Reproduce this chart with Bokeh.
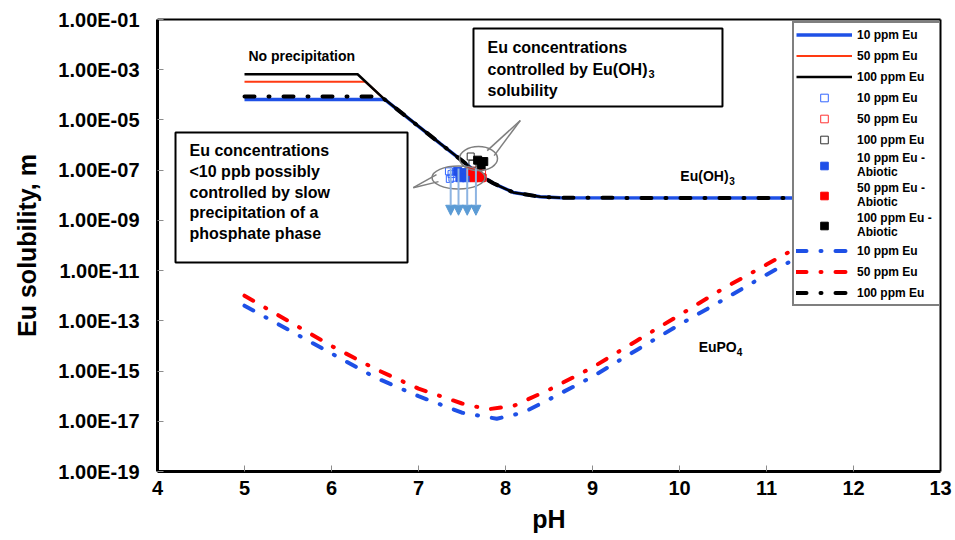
from bokeh.plotting import figure
from bokeh.models import (Range1d, FixedTicker, CustomJSTickFormatter, LinearAxis, LogAxis,
                          Legend, LegendItem, Label, BoxAnnotation, Arrow, NormalHead,
                          ColumnDataSource)
from bokeh.embed import file_html
from bokeh.resources import INLINE

FONT = "Liberation Sans"

# ---------------- data ----------------
x_ticks = [4, 5, 6, 7, 8, 9, 10, 11, 12, 13]
y_ticks = [1e-19, 1e-17, 1e-15, 1e-13, 1e-11, 1e-09, 1e-07, 1e-05, 1e-03, 1e-01]

# Eu(OH)3 controlled solubility (solid lines)
oh10_ph = [5.0, 6.61, 7.0, 7.25, 7.5, 7.71, 7.86, 8.09, 8.4, 8.63, 12.0]
oh10_m = [6.58e-5, 6.58e-5, 5.6e-6, 1.15e-6, 2.4e-7, 6.2e-8, 3.0e-8, 1.3e-8, 8.7e-9, 7.9e-9, 7.8e-9]
oh50_ph = [5.0, 6.39, 6.6, 7.0, 7.25, 7.5, 7.71, 7.86, 8.09, 8.4, 8.63]
oh50_m = [3.29e-4, 3.29e-4, 7.1e-5, 5.6e-6, 1.15e-6, 2.4e-7, 6.2e-8, 3.0e-8, 1.3e-8, 8.7e-9, 7.9e-9]
oh100_ph = [5.0, 6.3, 6.6, 7.0, 7.25, 7.5, 7.71, 7.86, 8.09, 8.4, 8.63]
oh100_m = [6.58e-4, 6.58e-4, 7.1e-5, 5.6e-6, 1.15e-6, 2.4e-7, 6.2e-8, 3.0e-8, 1.3e-8, 8.7e-9, 7.9e-9]

# EuPO4 controlled solubility (dash-dot lines)
po10_ph = [5.0, 5.5, 6.0, 6.5, 7.0, 7.5, 7.9, 8.2, 8.5, 9.0, 9.5, 10.0, 10.5, 11.0, 11.5, 12.0]
po10_m = [4.0e-13, 4.5e-14, 5.0e-15, 5.6e-16, 1.0e-16, 2.2e-17, 1.26e-17, 2.2e-17, 7.4e-17,
          6.0e-16, 6.6e-15, 7.1e-14, 6.8e-13, 6.9e-12, 6.3e-11, 6.3e-10]
po50_ph = [5.0, 5.5, 6.0, 6.5, 7.0, 7.5, 7.8, 8.1, 8.5, 9.0, 9.5, 10.0, 10.5, 11.0, 11.5, 12.0]
po50_m = [1.0e-12, 1.0e-13, 1.0e-14, 1.23e-15, 2.0e-16, 5.1e-17, 3.0e-17, 4.2e-17, 1.8e-16,
          1.4e-15, 1.55e-14, 1.7e-13, 1.9e-12, 1.74e-11, 1.6e-10, 1.4e-9]
po100_ph = [5.0, 6.57, 7.0, 7.25, 7.5, 7.71, 7.86, 8.09, 8.4, 8.63, 12.0]
po100_m = [8.5e-5, 8.5e-5, 5.6e-6, 1.15e-6, 2.4e-7, 6.2e-8, 3.0e-8, 1.3e-8, 8.7e-9, 7.9e-9, 7.8e-9]

# measured concentrations
bio10_ph = [7.35, 7.36, 7.38, 7.39]
bio10_m = [9.0e-8, 4.5e-8, 7.0e-8, 5.0e-8]
bio50_ph = [7.73, 7.74]
bio50_m = [8.0e-8, 5.0e-8]
bio100_ph = [7.60, 7.62]
bio100_m = [3.5e-7, 1.8e-7]
abio10_ph = [7.45, 7.48, 7.52, 7.55]
abio10_m = [9.0e-8, 5.0e-8, 8.0e-8, 5.0e-8]
abio50_ph = [7.60, 7.64, 7.68, 7.72]
abio50_m = [9.0e-8, 5.0e-8, 8.0e-8, 5.0e-8]
abio100_ph = [7.68, 7.72, 7.75]
abio100_m = [2.5e-7, 1.6e-7, 2.2e-7]

# "less than" arrows
arrow_ph = [7.37, 7.46, 7.56, 7.66]
arrow_top = [1.17e-7, 1.17e-7, 1.17e-7, 1.17e-7]
arrow_bot = [1.6e-9, 1.6e-9, 1.6e-9, 1.6e-9]

BLUE = "#1E50E6"
RED_SOLID = "#FF3A12"
RED = "#FF0000"
DASHDOT = "10 14 1 14"

# ---------------- figure ----------------
p = figure(width=955, height=540, x_range=Range1d(4, 13), y_range=Range1d(1e-19, 1e-1),
           y_axis_type="log", output_backend="svg", toolbar_location=None,
           min_border_left=157, min_border_right=15, min_border_top=19, min_border_bottom=69,
           background_fill_color="white", border_fill_color="white")
p.xgrid.visible = False
p.ygrid.visible = False
p.outline_line_color = None

xa = p.xaxis[0]
xa.ticker = FixedTicker(ticks=x_ticks)
xa.axis_label = "pH"
ya = p.yaxis[0]
ya.ticker = FixedTicker(ticks=y_ticks)
ya.formatter = CustomJSTickFormatter(code="""
const s = tick.toExponential(2).split('e');
let e = parseInt(s[1]);
const sg = e < 0 ? '-' : '+';
e = Math.abs(e);
return s[0] + 'E' + sg + (e < 10 ? '0' : '') + e;
""")
ya.axis_label = "Eu solubility, m"
for a in (xa, ya):
    a.axis_line_color = "black"
    a.axis_line_width = 3
    a.major_tick_in = 6
    a.major_tick_out = 0
    a.major_tick_line_color = "#8C8C8C"
    a.major_tick_line_width = 1
    a.minor_tick_line_color = None
    a.major_label_text_font = FONT
    a.major_label_text_font_style = "bold"
    a.major_label_text_font_size = "20px"
    a.major_label_text_color = "black"
    a.axis_label_text_font = FONT
    a.axis_label_text_font_style = "bold"
    a.axis_label_text_font_size = "25px"
    a.axis_label_text_color = "black"
xa.major_label_standoff = 9
xa.axis_label_standoff = 7
ya.major_label_standoff = 18
ya.axis_label_standoff = 14

# frame lines on top and right
top_ax = LinearAxis(ticker=FixedTicker(ticks=[]), axis_line_width=2, axis_line_color="black",
                    major_tick_line_color=None, minor_tick_line_color=None,
                    major_label_text_font_size="0px")
right_ax = LogAxis(ticker=FixedTicker(ticks=[]), axis_line_width=2, axis_line_color="black",
                   major_tick_line_color=None, minor_tick_line_color=None,
                   major_label_text_font_size="0px")
p.add_layout(top_ax, "above")
p.add_layout(right_ax, "right")

# ---------------- curves ----------------
r_oh50 = p.line(oh50_ph, oh50_m, line_color=RED_SOLID, line_width=2)
r_oh10 = p.line(oh10_ph, oh10_m, line_color=BLUE, line_width=3.5)
r_oh100 = p.line(oh100_ph, oh100_m, line_color="black", line_width=2.5)

r_po10 = p.line(po10_ph, po10_m, line_color=BLUE, line_width=4, line_dash=DASHDOT, line_cap="round")
r_po50 = p.line(po50_ph, po50_m, line_color=RED, line_width=4, line_dash=DASHDOT, line_cap="round")
r_po100 = p.line(po100_ph, po100_m, line_color="black", line_width=4, line_dash=DASHDOT, line_cap="round")

# ---------------- points ----------------
r_b10 = p.scatter(bio10_ph, bio10_m, marker="square", size=7, fill_color="white", fill_alpha=0,
                  line_color="#3366FF", line_width=1)
r_b50 = p.scatter(bio50_ph, bio50_m, marker="square", size=7, fill_color="white", fill_alpha=0,
                  line_color="#FF3333", line_width=1)
r_b100 = p.scatter(bio100_ph, bio100_m, marker="square", size=7, fill_color="white", fill_alpha=0,
                   line_color="#333333", line_width=1)
r_a10 = p.scatter(abio10_ph, abio10_m, marker="square", size=8, fill_color="#1F4FE8",
                  line_color="#1F4FE8")
r_a50 = p.scatter(abio50_ph, abio50_m, marker="square", size=8, fill_color="#FF0000",
                  line_color="#FF0000")
r_a100 = p.scatter(abio100_ph, abio100_m, marker="square", size=8, fill_color="black",
                   line_color="black")

# speech bubbles
p.ellipse(x=[7.46, 7.69], y=[5.1e-8, 2.9e-7], width=[53, 38], height=[23, 24],
          width_units="screen", height_units="screen", fill_color=None,
          line_color="#7F7F7F", line_width=1.5)
p.segment(x0=[7.207, 7.23, 7.79, 7.87], y0=[6.7e-8, 3.5e-8, 6.0e-7, 3.8e-7],
          x1=[6.94, 6.94, 8.17, 8.17], y1=[2.0e-8, 2.0e-8, 9.5e-6, 9.5e-6],
          line_color="#7F7F7F", line_width=1.5)

arrow_src = ColumnDataSource(dict(xs=arrow_ph, ys=arrow_top, xe=arrow_ph, ye=arrow_bot))
p.add_layout(Arrow(source=arrow_src, x_start="xs", y_start="ys", x_end="xe", y_end="ye",
                   line_color="#8DB4E2", line_width=2,
                   end=NormalHead(size=10, fill_color="#5B9BD5", line_color="#5B9BD5")))

# ---------------- text boxes ----------------
p.add_layout(BoxAnnotation(left=7.632, right=10.494, top=4.39e-2, bottom=3.43e-5,
                           fill_color="white", fill_alpha=1, line_color="black",
                           line_alpha=1, line_width=2))
p.add_layout(BoxAnnotation(left=4.207, right=6.874, top=3.16e-6, bottom=2.09e-11,
                           fill_color="white", fill_alpha=1, line_color="black",
                           line_alpha=1, line_width=2))


def lab(x, y, text, size="16px", dx=0, dy=0):
    p.add_layout(Label(x=x, y=y, x_offset=dx, y_offset=dy, text=text, text_font=FONT,
                       text_font_style="bold", text_font_size=size, text_color="black",
                       text_baseline="middle", text_align="left"))


box1 = ["Eu concentrations", "controlled by Eu(OH)", "solubility"]
for i, t in enumerate(box1):
    lab(7.793, 7.67e-3, t, dy=-21.5 * i)
lab(7.793, 7.67e-3, "3", size="11px", dx=161, dy=-21.5 - 5)

box2 = ["Eu concentrations", "<10 ppb possibly", "controlled by slow",
        "precipitation of a", "phosphate phase"]
for i, t in enumerate(box2):
    lab(4.368, 6.07e-7, t, dy=-20.8 * i)

lab(5.046, 3.68e-3, "No precipitation", size="14px")
lab(10.01, 5.6e-8, "Eu(OH)", size="14px")
lab(10.01, 5.6e-8, "3", size="10px", dx=49, dy=-5)
lab(10.22, 8.7e-15, "EuPO", size="14px")
lab(10.22, 8.7e-15, "4", size="10px", dx=38, dy=-5)

# ---------------- legend ----------------
items = [
    LegendItem(label="10 ppm Eu", renderers=[r_oh10]),
    LegendItem(label="50 ppm Eu", renderers=[r_oh50]),
    LegendItem(label="100 ppm Eu", renderers=[r_oh100]),
    LegendItem(label="10 ppm Eu", renderers=[r_b10]),
    LegendItem(label="50 ppm Eu", renderers=[r_b50]),
    LegendItem(label="100 ppm Eu", renderers=[r_b100]),
    LegendItem(label="10 ppm Eu -\nAbiotic", renderers=[r_a10]),
    LegendItem(label="50 ppm Eu -\nAbiotic", renderers=[r_a50]),
    LegendItem(label="100 ppm Eu -\nAbiotic", renderers=[r_a100]),
    LegendItem(label="10 ppm Eu", renderers=[r_po10]),
    LegendItem(label="50 ppm Eu", renderers=[r_po50]),
    LegendItem(label="100 ppm Eu", renderers=[r_po100]),
]
legend = Legend(items=items, location=(635, 165), orientation="vertical",
                label_text_font=FONT, label_text_font_style="bold", label_text_font_size="12px",
                label_text_color="black", glyph_width=56, glyph_height=19, label_height=19,
                label_width=80, label_standoff=5, spacing=2, padding=2, margin=0,
                border_line_color="black", border_line_width=2,
                background_fill_color="white", background_fill_alpha=1)
p.add_layout(legend, "center")

open("out.html", "w").write(file_html(p, INLINE))
